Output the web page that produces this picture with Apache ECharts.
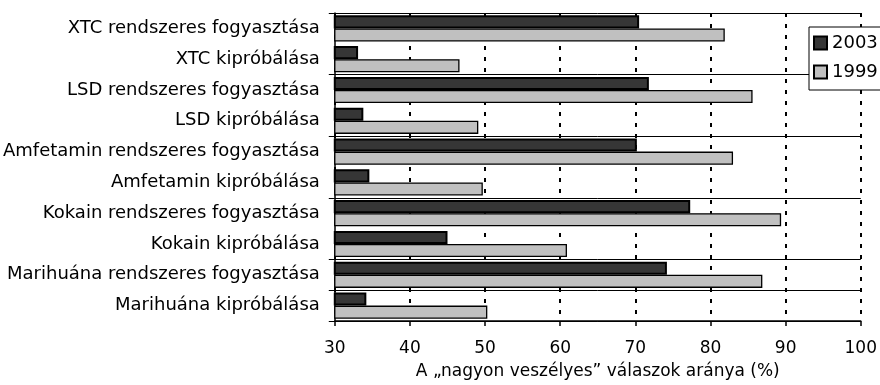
<!DOCTYPE html>
<html>
<head>
<meta charset="utf-8">
<script src="https://cdn.jsdelivr.net/npm/echarts@6/dist/echarts.min.js"></script>
<style>
  html, body { margin: 0; padding: 0; background: #fff; }
  #chart { width: 880px; height: 385px; }
</style>
</head>
<body>
<div id="chart"></div>
<script>
// Categories, top to bottom
const categories = [
  'XTC rendszeres fogyasztása',
  'XTC kipróbálása',
  'LSD rendszeres fogyasztása',
  'LSD kipróbálása',
  'Amfetamin rendszeres fogyasztása',
  'Amfetamin kipróbálása',
  'Kokain rendszeres fogyasztása',
  'Kokain kipróbálása',
  'Marihuána rendszeres fogyasztása',
  'Marihuána kipróbálása'
];

// Share of "very dangerous" answers (%)
const values2003 = [70.5, 33.1, 71.8, 33.8, 70.2, 34.6, 77.3, 45.0, 74.2, 34.2];
const values1999 = [81.9, 46.6, 85.6, 49.1, 83.0, 49.7, 89.4, 60.9, 86.9, 50.3];

const seriesNames = ['2003', '1999'];
const xMin = 30, xMax = 100, xStep = 10;
const xTitle = 'A „nagyon veszélyes” válaszok aránya (%)';

const FONT = 'DejaVu Sans';

const chart = echarts.init(document.getElementById('chart'), null, { renderer: 'canvas' });

chart.setOption({
  animation: false,
  backgroundColor: '#fff',
  textStyle: { fontFamily: FONT, color: '#000' },
  grid: { left: 334, right: 19, top: 13, bottom: 64, containLabel: false },
  legend: {
    orient: 'vertical',
    left: 809,
    top: 27,
    padding: [7, 6, 9, 4],
    itemGap: 11,
    itemWidth: 13,
    itemHeight: 13,
    backgroundColor: '#fff',
    borderColor: '#000',
    borderWidth: 1,
    borderRadius: 0,
    icon: 'rect',
    textStyle: { fontFamily: FONT, fontSize: 18, color: '#000', lineHeight: 18 },
    data: seriesNames
  },
  xAxis: {
    type: 'value',
    min: xMin,
    max: xMax,
    interval: xStep,
    name: xTitle,
    nameLocation: 'middle',
    nameGap: 42,
    nameTextStyle: { fontFamily: FONT, fontSize: 17, color: '#000' },
    axisLine: { show: true, lineStyle: { color: '#000', width: 1.5 } },
    axisTick: { show: true, length: 5, lineStyle: { color: '#000', width: 1.5 } },
    axisLabel: { fontFamily: FONT, fontSize: 17, color: '#000', margin: 19 },
    splitLine: {
      show: true,
      lineStyle: { color: '#000', width: 2, type: [4, 7] }
    }
  },
  yAxis: {
    type: 'category',
    inverse: true,
    data: categories,
    axisLine: { show: true, lineStyle: { color: '#000', width: 1.5 } },
    axisTick: { show: true, interval: 1, length: 6, lineStyle: { color: '#000', width: 1 } },
    axisLabel: { interval: 0, fontFamily: FONT, fontSize: 18, color: '#000', margin: 15 },
    splitLine: { show: true, interval: 1, lineStyle: { color: '#000', width: 1 } }
  },
  series: [
    {
      name: seriesNames[0],
      type: 'bar',
      data: values2003,
      barGap: '0%',
      barCategoryGap: '15%',
      itemStyle: { color: '#363636', borderColor: '#000', borderWidth: 2 }
    },
    {
      name: seriesNames[1],
      type: 'bar',
      data: values1999,
      barGap: '0%',
      barCategoryGap: '15%',
      itemStyle: { color: '#c0c0c0', borderColor: '#000', borderWidth: 1.3 }
    }
  ]
});
</script>
</body>
</html>
